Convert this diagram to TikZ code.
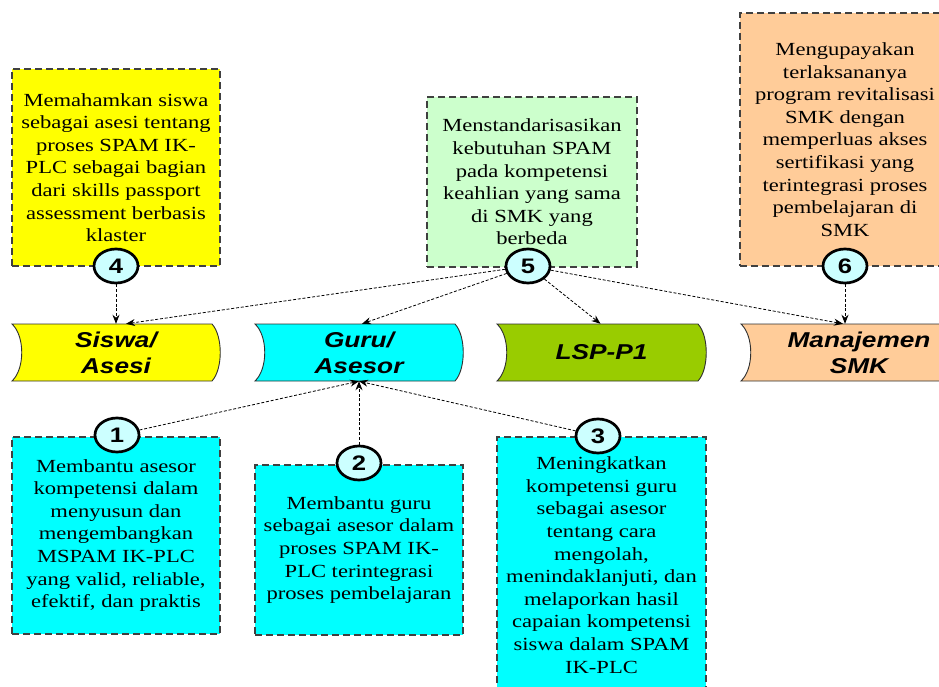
\documentclass[tikz,border=0pt]{standalone}
\usepackage{fontspec}
\setmainfont{Liberation Serif}[FakeStretch=1.22]
\newfontfamily\bannerfont{Liberation Sans}[FakeStretch=1.22]
\usetikzlibrary{arrows.meta,shapes.geometric}
\definecolor{boxyellow}{HTML}{FFFF00}
\definecolor{boxgreen}{HTML}{CCFFCC}
\definecolor{boxorange}{HTML}{FFCC99}
\definecolor{boxcyan}{HTML}{00FFFF}
\definecolor{lspgreen}{HTML}{99CC00}
\definecolor{circfill}{HTML}{CCFFFF}
\definecolor{boxline}{HTML}{404040}
\definecolor{bannerline}{HTML}{303030}
\newcommand\bannerpath[3]{\filldraw[fill=#3, draw=bannerline, line width=0.9pt] (#1,324) -- (#2-8,324) .. controls (#2+3,336) and (#2+3,369) .. (#2-8,381) -- (#1,381) .. controls (#1+13,369) and (#1+13,336) .. (#1,324) -- cycle;}
\tikzset{
  infobox/.style={draw=boxline, line width=1.3pt, dash pattern=on 7pt off 4pt, inner sep=0pt, align=center, font=\fontsize{18.5}{22.6}\selectfont},
  numcirc/.style={ellipse, draw=black, line width=2.7pt, fill=circfill, minimum width=44pt, minimum height=34pt, inner sep=0pt, font=\bannerfont\bfseries\fontsize{21}{21}\selectfont},
  bannertext/.style={inner sep=0pt, align=center, minimum height=57pt, font=\bannerfont\bfseries\itshape\fontsize{21.5}{26}\selectfont},
  conn/.style={draw=black, line width=0.8pt, dash pattern=on 3pt off 1.8pt, -{Stealth[length=9pt,width=7pt]}},
}
\begin{document}
\begin{tikzpicture}[x=1pt,y=-1pt]
\useasboundingbox (0,0) rectangle (939,687);
\clip (0,0) rectangle (939,687);
% top boxes
\node[infobox, fill=boxyellow, minimum width=208pt, minimum height=197pt] (b4) at (116,167.5)
  {Memahamkan siswa\\sebagai asesi tentang\\proses SPAM IK-\\PLC sebagai bagian\\dari skills passport\\assessment berbasis\\klaster};
\node[infobox, fill=boxgreen, minimum width=210pt, minimum height=170pt] (b5) at (532,182)
  {Menstandarisasikan\\kebutuhan SPAM\\pada kompetensi\\keahlian yang sama\\di SMK yang\\berbeda};
\node[infobox, fill=boxorange, minimum width=210pt, minimum height=253pt] (b6) at (845,139.5)
  {Mengupayakan\\terlaksananya\\program revitalisasi\\SMK dengan\\memperluas akses\\sertifikasi yang\\terintegrasi proses\\pembelajaran di\\SMK};
% bottom boxes
\node[infobox, fill=boxcyan, minimum width=208pt, minimum height=197pt] (b1) at (116,535.5)
  {Membantu asesor\\kompetensi dalam\\menyusun dan\\mengembangkan\\MSPAM IK-PLC\\yang valid, reliable,\\efektif, dan praktis};
\node[infobox, fill=boxcyan, minimum width=208pt, minimum height=170pt] (b2) at (359,550)
  {Membantu guru\\sebagai asesor dalam\\proses SPAM IK-\\PLC terintegrasi\\proses pembelajaran};
\node[infobox, fill=boxcyan, minimum width=209pt, minimum height=256pt] (b3) at (601.5,565)
  {Meningkatkan\\kompetensi guru\\sebagai asesor\\tentang cara\\mengolah,\\menindaklanjuti, dan\\melaporkan hasil\\capaian kompetensi\\siswa dalam SPAM\\IK-PLC};
% banners
\bannerpath{12}{220}{boxyellow}
\bannerpath{255}{463}{boxcyan}
\bannerpath{497}{706}{lspgreen}
\bannerpath{741}{949}{boxorange}
\node[bannertext, minimum width=208pt] (siswa) at (116,352.5) {Siswa/\\Asesi};
\node[bannertext, minimum width=208pt] (guru) at (359,352.5) {Guru/\\Asesor};
\node[bannertext, minimum width=208pt] (lsp) at (601.5,352.5) {LSP-P1};
\node[bannertext, minimum width=236pt] (manaj) at (859,352.5) {Manajemen\\SMK};
% number circles
\node[numcirc] (c4) at (116,266) {4};
\node[numcirc] (c5) at (528,266) {5};
\node[numcirc] (c6) at (845,266) {6};
\node[numcirc] (c1) at (117,435) {1};
\node[numcirc] (c2) at (359,463) {2};
\node[numcirc] (c3) at (598,436) {3};
% connectors
\draw[conn] (c4) -- (siswa.north);
\draw[conn] (c5) -- ([xshift=10pt]siswa.north);
\draw[conn] (c5) -- ([xshift=3pt]guru.north);
\draw[conn] (c5) -- ([xshift=-1pt]lsp.north);
\draw[conn] (c5) -- ([xshift=-16pt]manaj.north);
\draw[conn] (c6) -- ([xshift=-14pt]manaj.north);
\draw[conn] (c1) -- (guru.south);
\draw[conn] (c2) -- (guru.south);
\draw[conn] (c3) -- (guru.south);
\end{tikzpicture}
\end{document}
